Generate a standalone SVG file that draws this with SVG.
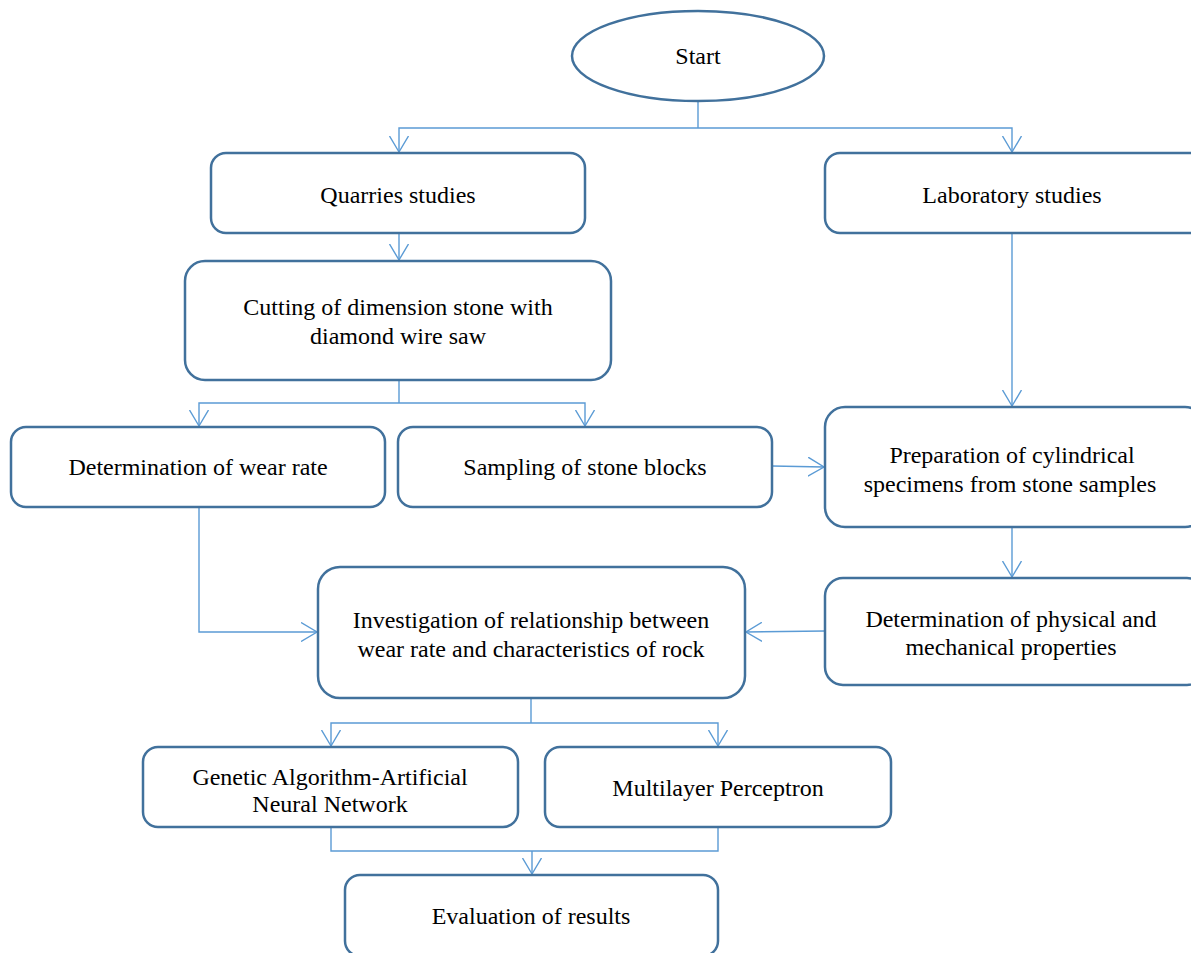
<svg xmlns="http://www.w3.org/2000/svg" width="1191" height="953" viewBox="0 0 1191 953">
<style>
.n{fill:#fff;stroke:#41719c;stroke-width:2.5}
.t{font-family:"Liberation Serif","Times New Roman",serif;font-size:24px;fill:#000;text-anchor:middle}
.c{fill:none;stroke:#5b9bd5;stroke-width:1.4}
</style>
<defs>
<marker id="a" viewBox="0 0 20 20" refX="16" refY="10" markerWidth="20" markerHeight="20" markerUnits="userSpaceOnUse" orient="auto">
<path d="M0,0.5 L16,10 L0,19.5" fill="none" stroke="#5b9bd5" stroke-width="1.4"/>
</marker>
</defs>
<rect width="1191" height="953" fill="#fff"/>
<g id="connectors">
<path class="c" d="M698,101 V128"/>
<path class="c" d="M698,128 H399 V152" marker-end="url(#a)"/>
<path class="c" d="M698,128 H1012 V152" marker-end="url(#a)"/>
<path class="c" d="M399,233 V260" marker-end="url(#a)"/>
<path class="c" d="M399,380 V403"/>
<path class="c" d="M399,403 H199 V426" marker-end="url(#a)"/>
<path class="c" d="M399,403 H585 V426" marker-end="url(#a)"/>
<path class="c" d="M772,466 L824,467" marker-end="url(#a)"/>
<path class="c" d="M1012,233 V406" marker-end="url(#a)"/>
<path class="c" d="M1012,527 V577" marker-end="url(#a)"/>
<path class="c" d="M825,631 L746,632" marker-end="url(#a)"/>
<path class="c" d="M199,507 V632 H317" marker-end="url(#a)"/>
<path class="c" d="M531,698 V723"/>
<path class="c" d="M531,723 H331 V746" marker-end="url(#a)"/>
<path class="c" d="M531,723 H718 V746" marker-end="url(#a)"/>
<path class="c" d="M331,827 V851 H718 V827"/>
<path class="c" d="M532,851 V874" marker-end="url(#a)"/>
</g>
<g id="start"><ellipse class="n" cx="698" cy="56" rx="126" ry="45"/><text class="t" x="698" y="64">Start</text></g>
<g id="quarries"><rect class="n" x="211" y="153" width="374" height="80" rx="15"/><text class="t" x="398" y="203">Quarries studies</text></g>
<g id="lab"><rect class="n" x="825" y="153" width="380" height="80" rx="15"/><text class="t" x="1012" y="203">Laboratory studies</text></g>
<g id="cutting"><rect class="n" x="185" y="261" width="426" height="119" rx="20"/><text class="t" x="398" y="315">Cutting of dimension stone with</text><text class="t" x="398" y="344">diamond wire saw</text></g>
<g id="wear"><rect class="n" x="11" y="427" width="374" height="80" rx="15"/><text class="t" x="198" y="475">Determination of wear rate</text></g>
<g id="sampling"><rect class="n" x="398" y="427" width="374" height="80" rx="15"/><text class="t" x="585" y="475">Sampling of stone blocks</text></g>
<g id="preparation"><rect class="n" x="825" y="407" width="380" height="120" rx="20"/><text class="t" x="1012" y="463">Preparation of cylindrical</text><text class="t" x="1010" y="492">specimens from stone samples</text></g>
<g id="physical"><rect class="n" x="825" y="578" width="380" height="107" rx="18"/><text class="t" x="1011" y="627">Determination of physical and</text><text class="t" x="1011" y="655">mechanical properties</text></g>
<g id="investigation"><rect class="n" x="318" y="567" width="427" height="131" rx="22"/><text class="t" x="531" y="628">Investigation of relationship between</text><text class="t" x="531" y="657">wear rate and characteristics of rock</text></g>
<g id="ga"><rect class="n" x="143" y="747" width="375" height="80" rx="15"/><text class="t" x="330" y="785">Genetic Algorithm-Artificial</text><text class="t" x="330" y="812">Neural Network</text></g>
<g id="mlp"><rect class="n" x="545" y="747" width="346" height="80" rx="15"/><text class="t" x="718" y="796">Multilayer Perceptron</text></g>
<g id="evaluation"><rect class="n" x="345" y="875" width="373" height="81" rx="15"/><text class="t" x="531" y="924">Evaluation of results</text></g>
</svg>
